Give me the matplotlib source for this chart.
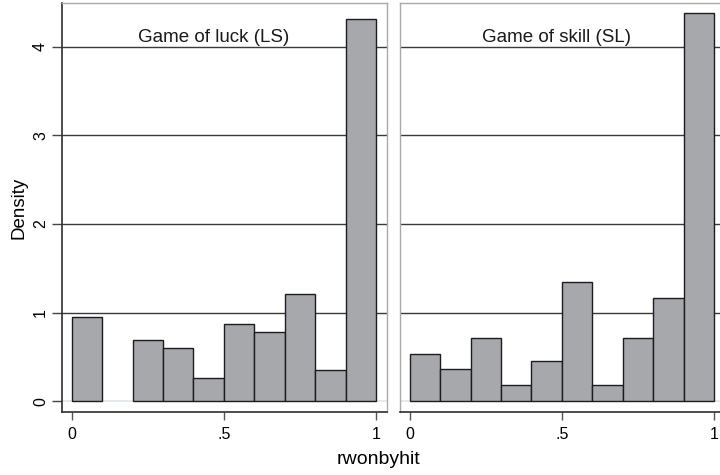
import matplotlib
matplotlib.use("Agg")
import matplotlib.pyplot as plt
import numpy as np

plt.rcParams['font.family'] = ['Liberation Sans', 'DejaVu Sans']

# histogram bins (width .1) and densities
bin_edges = [0.0, 0.1, 0.2, 0.3, 0.4, 0.5, 0.6, 0.7, 0.8, 0.9, 1.0]
luck_density = [0.947, 0.0, 0.692, 0.605, 0.259, 0.868, 0.778, 1.211, 0.350, 4.312]
skill_density = [0.534, 0.361, 0.714, 0.180, 0.451, 1.342, 0.180, 0.714, 1.162, 4.376]

panel_titles = ["Game of luck (LS)", "Game of skill (SL)"]
title_x = [0.466, 0.481]
x_ticks = [0, 0.5, 1]
x_ticklabels = ["0", ".5", "1"]
y_ticks = [0, 1, 2, 3, 4]

bar_face = "#a7a8ac"
bar_edge = "#1c1c1c"
grid_color = "#3a3a3a"
axis_dark = "#2e2e2e"
frame_light = "#a9a9a9"


def draw_panel(ax, density, title, tx, show_y):
  lefts = np.array(bin_edges[:-1])
  widths = np.diff(bin_edges)
  heights = np.array(density)
  keep = heights > 0
  ax.bar(lefts[keep], heights[keep], width=widths[keep], align="edge",
         color=bar_face, edgecolor=bar_edge, linewidth=1.0, zorder=3)

  # stata style grid: dark lines at 1..4, faint line at 0
  for y in y_ticks[1:]:
    ax.axhline(y, color=grid_color, linewidth=1.0, zorder=1)
  ax.axhline(0, color="#dfe5ea", linewidth=1.2, zorder=1)

  ax.set_xlim(-0.032, 1.036)
  ax.set_ylim(-0.121, 4.49)

  ax.set_xticks(x_ticks)
  ax.set_xticklabels(x_ticklabels, fontsize=11.5)
  ax.tick_params(axis="x", length=6, width=1, color="#555555", pad=5)

  for side in ["top", "right"]:
    ax.spines[side].set_color(frame_light)
    ax.spines[side].set_linewidth(1.0)
  ax.spines["bottom"].set_color(axis_dark)
  ax.spines["bottom"].set_linewidth(1.2)

  if show_y:
    ax.set_yticks(y_ticks)
    ax.set_yticklabels([str(v) for v in y_ticks], fontsize=11.5, rotation=90, va="center")
    ax.tick_params(axis="y", length=7, width=1, color="#444444", pad=3)
    ax.spines["left"].set_color(axis_dark)
    ax.spines["left"].set_linewidth(1.2)
    ax.set_ylabel("Density", fontsize=13.5, labelpad=4)
  else:
    ax.set_yticks([])
    ax.spines["left"].set_color(frame_light)
    ax.spines["left"].set_linewidth(1.0)

  ax.text(tx, 4.056, title, ha="center", va="baseline", fontsize=13.5,
          color="#1a1a1a", zorder=4)


fig = plt.figure(figsize=(7.2, 4.75), dpi=100)
ax1 = fig.add_axes([0.0861, 0.1326, 0.4514, 0.8604])
ax2 = fig.add_axes([0.5556, 0.1326, 0.4514, 0.8604])

draw_panel(ax1, luck_density, panel_titles[0], title_x[0], True)
draw_panel(ax2, skill_density, panel_titles[1], title_x[1], False)

fig.text(379 / 720, 1 - 460 / 475, "rwonbyhit", ha="center", va="center", fontsize=14)

fig.savefig("out.png", dpi=100)
